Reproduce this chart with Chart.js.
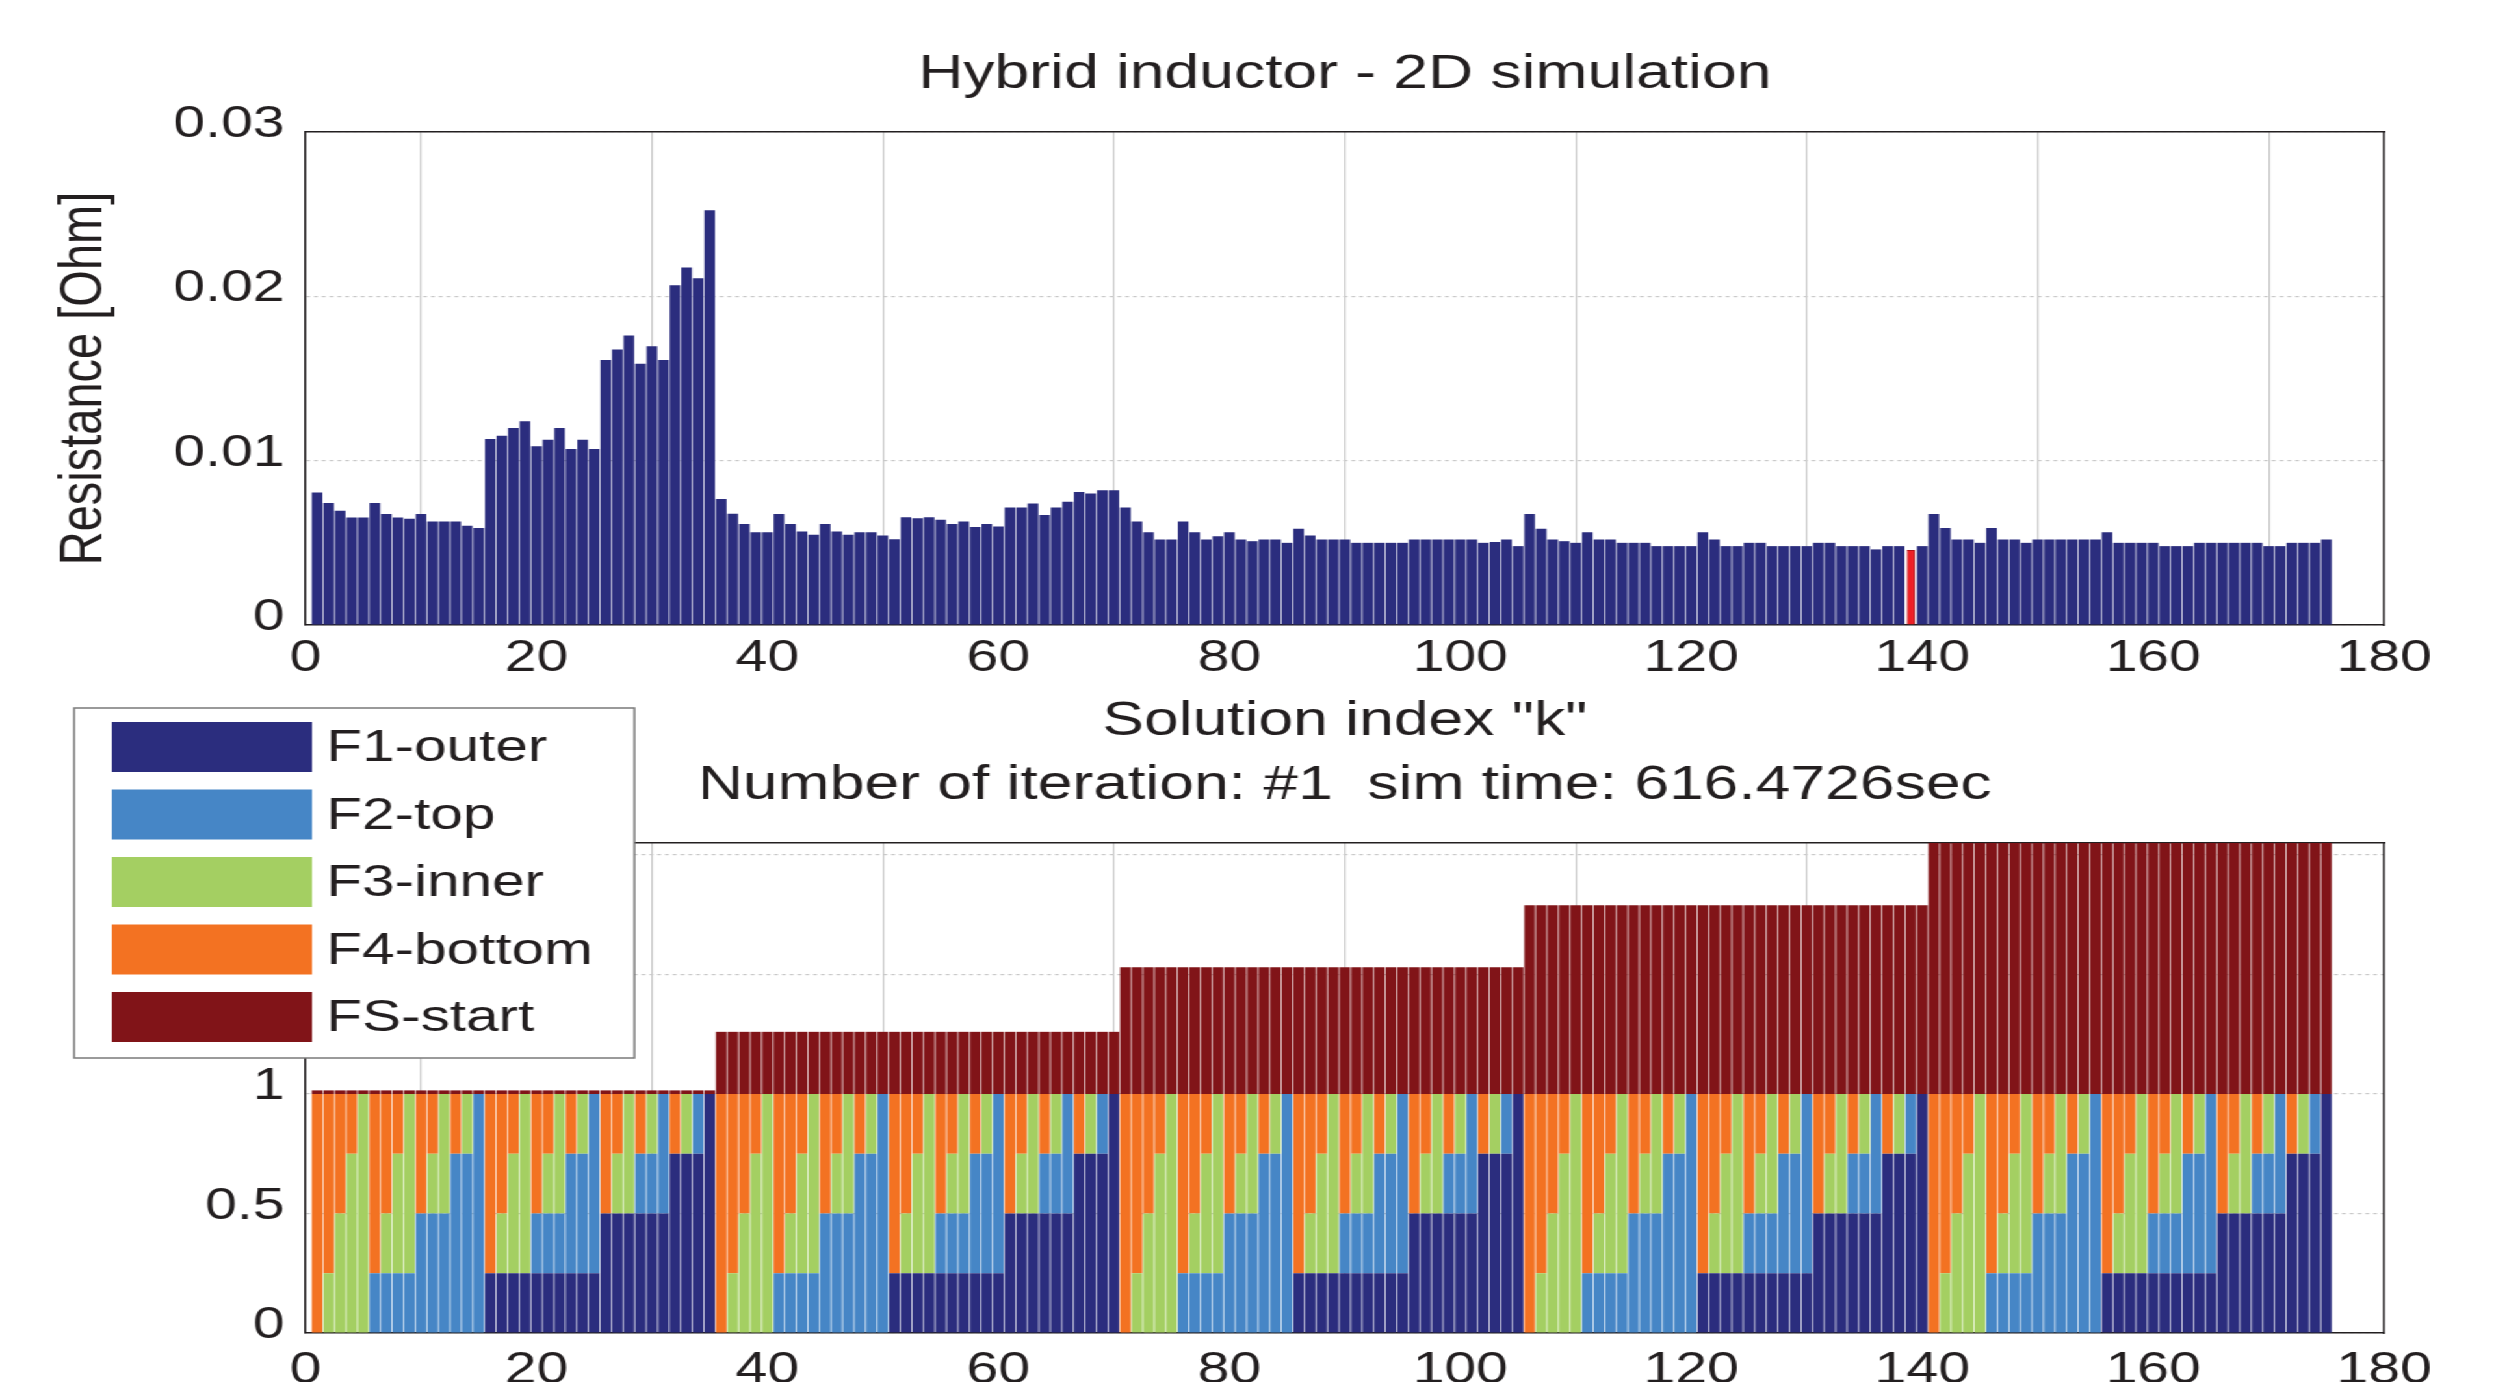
<!DOCTYPE html>
<html>
<head>
<meta charset="utf-8">
<script src="https://cdn.jsdelivr.net/npm/chart.js@4.4.1/dist/chart.umd.min.js"></script>
<style>
  html, body { margin: 0; padding: 0; background: #fff; width: 2504px; height: 1382px; overflow: hidden; }
  /* la figura original está estirada en horizontal, la reproducimos con scaleX */
  #wrap { position: absolute; left: 0; top: 0; width: 1926px; height: 1420px; transform: scaleX(1.3); transform-origin: 0 0; }
  #topChart { position: absolute; left: 0; top: 0; }
  #bottomChart { position: absolute; left: 0; top: 690px; }
</style>
</head>
<body>
<div id="wrap">
  <canvas id="topChart" width="1926" height="760"></canvas>
  <canvas id="bottomChart" width="1926" height="720"></canvas>
</div>
<script>
// Índice de solución k = 1..175
const solutionK = Array.from({ length: 175 }, (_, i) => i + 1);

// Resistencia [Ohm] por solución (k = 139 va aparte, en rojo)
const resistance = [
  0.00807, 0.00742, 0.00695, 0.00654, 0.00654, 0.00742, 0.00675, 0.00654, 0.00646, 0.00675,
  0.0063, 0.0063, 0.0063, 0.00604, 0.0059, 0.01132, 0.01152, 0.01199, 0.0124, 0.01087,
  0.01128, 0.01199, 0.01071, 0.01128, 0.01071, 0.01612, 0.01677, 0.01762, 0.0159, 0.01697,
  0.01612, 0.02067, 0.02175, 0.0211, 0.02524, 0.00766, 0.00677, 0.00614, 0.00565, 0.00565,
  0.00675, 0.00614, 0.00569, 0.00549, 0.00614, 0.00569, 0.00549, 0.00565, 0.00565, 0.00545,
  0.00522, 0.00656, 0.0065, 0.00656, 0.0064, 0.00614, 0.0063, 0.00596, 0.00614, 0.006,
  0.00715, 0.00715, 0.0074, 0.0067, 0.00715, 0.0075, 0.0081, 0.008, 0.0082, 0.0082,
  0.00715, 0.0063, 0.00565, 0.0052, 0.0052, 0.0063, 0.00565, 0.0052, 0.0054, 0.00565,
  0.0052, 0.0051, 0.0052, 0.0052, 0.005, 0.00585, 0.00545, 0.0052, 0.0052, 0.0052,
  0.005, 0.005, 0.005, 0.005, 0.005, 0.0052, 0.0052, 0.0052, 0.0052, 0.0052,
  0.0052, 0.005, 0.00505, 0.0052, 0.0048, 0.00675, 0.00585, 0.0052, 0.0051, 0.005,
  0.00565, 0.0052, 0.0052, 0.005, 0.005, 0.005, 0.0048, 0.0048, 0.0048, 0.0048,
  0.00565, 0.0052, 0.0048, 0.0048, 0.005, 0.005, 0.0048, 0.0048, 0.0048, 0.0048,
  0.005, 0.005, 0.0048, 0.0048, 0.0048, 0.0046, 0.0048, 0.0048, null, 0.0048,
  0.00675, 0.0059, 0.0052, 0.0052, 0.005, 0.0059, 0.0052, 0.0052, 0.005, 0.0052,
  0.0052, 0.0052, 0.0052, 0.0052, 0.0052, 0.00565, 0.005, 0.005, 0.005, 0.005,
  0.0048, 0.0048, 0.0048, 0.005, 0.005, 0.005, 0.005, 0.005, 0.005, 0.0048,
  0.0048, 0.005, 0.005, 0.005, 0.0052
];
const selectedK = 139;
const selectedResistance = 0.00457;

// Fracción de cada cara por solución (bloques de 35, uno por cada FS-start)
const f1Outer = [
  0,0,0,0,0,0,0,0,0,0,0,0,0,0,0,0.25,0.25,0.25,0.25,0.25,0.25,0.25,0.25,0.25,0.25,0.5,0.5,0.5,0.5,0.5,0.5,0.75,0.75,0.75,1,
  0,0,0,0,0,0,0,0,0,0,0,0,0,0,0,0.25,0.25,0.25,0.25,0.25,0.25,0.25,0.25,0.25,0.25,0.5,0.5,0.5,0.5,0.5,0.5,0.75,0.75,0.75,1,
  0,0,0,0,0,0,0,0,0,0,0,0,0,0,0,0.25,0.25,0.25,0.25,0.25,0.25,0.25,0.25,0.25,0.25,0.5,0.5,0.5,0.5,0.5,0.5,0.75,0.75,0.75,1,
  0,0,0,0,0,0,0,0,0,0,0,0,0,0,0,0.25,0.25,0.25,0.25,0.25,0.25,0.25,0.25,0.25,0.25,0.5,0.5,0.5,0.5,0.5,0.5,0.75,0.75,0.75,1,
  0,0,0,0,0,0,0,0,0,0,0,0,0,0,0,0.25,0.25,0.25,0.25,0.25,0.25,0.25,0.25,0.25,0.25,0.5,0.5,0.5,0.5,0.5,0.5,0.75,0.75,0.75,1
];
const f2Top = [
  0,0,0,0,0,0.25,0.25,0.25,0.25,0.5,0.5,0.5,0.75,0.75,1,0,0,0,0,0.25,0.25,0.25,0.5,0.5,0.75,0,0,0,0.25,0.25,0.5,0,0,0.25,0,
  0,0,0,0,0,0.25,0.25,0.25,0.25,0.5,0.5,0.5,0.75,0.75,1,0,0,0,0,0.25,0.25,0.25,0.5,0.5,0.75,0,0,0,0.25,0.25,0.5,0,0,0.25,0,
  0,0,0,0,0,0.25,0.25,0.25,0.25,0.5,0.5,0.5,0.75,0.75,1,0,0,0,0,0.25,0.25,0.25,0.5,0.5,0.75,0,0,0,0.25,0.25,0.5,0,0,0.25,0,
  0,0,0,0,0,0.25,0.25,0.25,0.25,0.5,0.5,0.5,0.75,0.75,1,0,0,0,0,0.25,0.25,0.25,0.5,0.5,0.75,0,0,0,0.25,0.25,0.5,0,0,0.25,0,
  0,0,0,0,0,0.25,0.25,0.25,0.25,0.5,0.5,0.5,0.75,0.75,1,0,0,0,0,0.25,0.25,0.25,0.5,0.5,0.75,0,0,0,0.25,0.25,0.5,0,0,0.25,0
];
const f3Inner = [
  0,0.25,0.5,0.75,1,0,0.25,0.5,0.75,0,0.25,0.5,0,0.25,0,0,0.25,0.5,0.75,0,0.25,0.5,0,0.25,0,0,0.25,0.5,0,0.25,0,0,0.25,0,0,
  0,0.25,0.5,0.75,1,0,0.25,0.5,0.75,0,0.25,0.5,0,0.25,0,0,0.25,0.5,0.75,0,0.25,0.5,0,0.25,0,0,0.25,0.5,0,0.25,0,0,0.25,0,0,
  0,0.25,0.5,0.75,1,0,0.25,0.5,0.75,0,0.25,0.5,0,0.25,0,0,0.25,0.5,0.75,0,0.25,0.5,0,0.25,0,0,0.25,0.5,0,0.25,0,0,0.25,0,0,
  0,0.25,0.5,0.75,1,0,0.25,0.5,0.75,0,0.25,0.5,0,0.25,0,0,0.25,0.5,0.75,0,0.25,0.5,0,0.25,0,0,0.25,0.5,0,0.25,0,0,0.25,0,0,
  0,0.25,0.5,0.75,1,0,0.25,0.5,0.75,0,0.25,0.5,0,0.25,0,0,0.25,0.5,0.75,0,0.25,0.5,0,0.25,0,0,0.25,0.5,0,0.25,0,0,0.25,0,0
];
const f4Bottom = [
  1,0.75,0.5,0.25,0,0.75,0.5,0.25,0,0.5,0.25,0,0.25,0,0,0.75,0.5,0.25,0,0.5,0.25,0,0.25,0,0,0.5,0.25,0,0.25,0,0,0.25,0,0,0,
  1,0.75,0.5,0.25,0,0.75,0.5,0.25,0,0.5,0.25,0,0.25,0,0,0.75,0.5,0.25,0,0.5,0.25,0,0.25,0,0,0.5,0.25,0,0.25,0,0,0.25,0,0,0,
  1,0.75,0.5,0.25,0,0.75,0.5,0.25,0,0.5,0.25,0,0.25,0,0,0.75,0.5,0.25,0,0.5,0.25,0,0.25,0,0,0.5,0.25,0,0.25,0,0,0.25,0,0,0,
  1,0.75,0.5,0.25,0,0.75,0.5,0.25,0,0.5,0.25,0,0.25,0,0,0.75,0.5,0.25,0,0.5,0.25,0,0.25,0,0,0.5,0.25,0,0.25,0,0,0.25,0,0,0,
  1,0.75,0.5,0.25,0,0.75,0.5,0.25,0,0.5,0.25,0,0.25,0,0,0.75,0.5,0.25,0,0.5,0.25,0,0.25,0,0,0.5,0.25,0,0.25,0,0,0.25,0,0,0
];
const fsStart = [
  0.015,0.015,0.015,0.015,0.015,0.015,0.015,0.015,0.015,0.015,0.015,0.015,0.015,0.015,0.015,0.015,0.015,0.015,0.015,0.015,0.015,0.015,0.015,0.015,0.015,0.015,0.015,0.015,0.015,0.015,0.015,0.015,0.015,0.015,0.015,
  0.26,0.26,0.26,0.26,0.26,0.26,0.26,0.26,0.26,0.26,0.26,0.26,0.26,0.26,0.26,0.26,0.26,0.26,0.26,0.26,0.26,0.26,0.26,0.26,0.26,0.26,0.26,0.26,0.26,0.26,0.26,0.26,0.26,0.26,0.26,
  0.53,0.53,0.53,0.53,0.53,0.53,0.53,0.53,0.53,0.53,0.53,0.53,0.53,0.53,0.53,0.53,0.53,0.53,0.53,0.53,0.53,0.53,0.53,0.53,0.53,0.53,0.53,0.53,0.53,0.53,0.53,0.53,0.53,0.53,0.53,
  0.79,0.79,0.79,0.79,0.79,0.79,0.79,0.79,0.79,0.79,0.79,0.79,0.79,0.79,0.79,0.79,0.79,0.79,0.79,0.79,0.79,0.79,0.79,0.79,0.79,0.79,0.79,0.79,0.79,0.79,0.79,0.79,0.79,0.79,0.79,
  1.05,1.05,1.05,1.05,1.05,1.05,1.05,1.05,1.05,1.05,1.05,1.05,1.05,1.05,1.05,1.05,1.05,1.05,1.05,1.05,1.05,1.05,1.05,1.05,1.05,1.05,1.05,1.05,1.05,1.05,1.05,1.05,1.05,1.05,1.05
];

const faceLabels = ['F1-outer', 'F2-top', 'F3-inner', 'F4-bottom', 'FS-start'];
const faceColors = ['#2b2d7e', '#4686c6', '#a4cf62', '#f37222', '#811418'];

// Marcas de los ejes
const xTicks = [0, 20, 40, 60, 80, 100, 120, 140, 160, 180];
const yTicksTop = [0, 0.01, 0.02, 0.03];
const yLabelsTop = ['0', '0.01', '0.02', '0.03'];
const yTicksBottom = [0, 0.5, 1, 1.5, 2];
const yLabelsBottom = ['0', '0.5', '1', '1.5', '2'];

const FONT = '"Liberation Sans", Arial, Helvetica, sans-serif';
const TEXT = '#231f20';
const GRID = '#c9c9c9';

Chart.defaults.font.family = FONT;
Chart.defaults.color = TEXT;

const toPoints = (vals) => solutionK.map((k, i) => ({ x: k, y: vals[i] }));

// Ejes secundarios solo para cerrar la caja (arriba y derecha)
function boxAxis(position, min, max) {
  return {
    type: 'linear', position, min, max,
    ticks: { display: false },
    grid: { drawOnChartArea: false, drawTicks: false },
    border: { display: true, color: TEXT, width: 1.5 },
    afterFit: (s) => { if (position === 'top') s.height = 0; else s.width = 0; }
  };
}

function xAxis(padding) {
  return {
    type: 'linear', min: 0, max: 180, offset: false, stacked: true,
    afterBuildTicks: (s) => { s.ticks = xTicks.map(v => ({ value: v })); },
    ticks: { padding, maxRotation: 0, font: { size: 44, lineHeight: 1 }, color: TEXT, callback: (v) => String(v) },
    grid: { color: GRID, lineWidth: 1.2, drawTicks: false },
    border: { color: TEXT, width: 1.5 }
  };
}

// Leyenda dibujada sobre el área de la gráfica inferior, como en la figura
const legendBox = {
  id: 'legendBox',
  afterDraw(chart, args, o) {
    const ctx = chart.ctx;
    ctx.save();
    ctx.fillStyle = '#ffffff';
    ctx.fillRect(o.x, o.y, o.w, o.h);
    ctx.strokeStyle = '#7a7a7a';
    ctx.lineWidth = 1.5;
    ctx.strokeRect(o.x, o.y, o.w, o.h);
    ctx.font = '45px ' + FONT;
    ctx.textBaseline = 'middle';
    chart.data.datasets.forEach((ds, i) => {
      const y = o.y + o.first + i * o.step;
      ctx.fillStyle = ds.backgroundColor;
      ctx.fillRect(o.swatchX, y, o.swatchW, o.swatchH);
      ctx.fillStyle = TEXT;
      ctx.fillText(ds.label, o.textX, y + o.swatchH / 2 + 2);
    });
    ctx.restore();
  }
};

const topData = toPoints(resistance);

new Chart(document.getElementById('topChart'), {
  type: 'bar',
  data: {
    datasets: [
      { label: 'Resistance', data: topData, backgroundColor: '#2b2d7e', borderWidth: 0,
        barPercentage: 0.92, categoryPercentage: 1, grouped: false },
      { label: 'Selected', data: [{ x: selectedK, y: selectedResistance }], backgroundColor: '#ee1f25',
        borderColor: '#b01015', borderWidth: 1, barPercentage: 0.72, categoryPercentage: 1, grouped: false }
    ]
  },
  options: {
    responsive: false, animation: false, devicePixelRatio: 1,
    layout: { padding: { left: 0, right: 92, top: 0, bottom: 14 } },
    plugins: {
      legend: { display: false }, tooltip: { enabled: false },
      title: { display: true, fullSize: false, text: 'Hybrid inductor - 2D simulation', color: TEXT,
        font: { size: 48, weight: 'normal', lineHeight: 1 }, padding: { top: 51, bottom: 33 } }
    },
    scales: {
      x: Object.assign(xAxis(12), {
        title: { display: true, text: 'Solution index "k"', color: TEXT,
          font: { size: 48, lineHeight: 1 }, padding: { top: 0, bottom: 0 } },
        afterFit: (s) => { s.height = 121; }
      }),
      y: {
        type: 'linear', min: 0, max: 0.03,
        afterBuildTicks: (s) => { s.ticks = yTicksTop.map(v => ({ value: v })); },
        ticks: { padding: 16, labelOffset: -7, font: { size: 44, lineHeight: 1 }, color: TEXT,
          callback: (v, i) => yLabelsTop[i] },
        grid: { color: GRID, lineWidth: 1.2, drawTicks: false },
        border: { color: TEXT, width: 1.5, dash: [3, 3] },
        title: { display: true, text: 'Resistance [Ohm]', color: TEXT,
          font: { size: 47, lineHeight: 1 }, padding: { top: 42, bottom: 0 } },
        afterFit: (s) => { s.width = 235; }
      },
      x2: boxAxis('top', 0, 180),
      y2: boxAxis('right', 0, 0.03)
    }
  }
});

const faceSeries = [f1Outer, f2Top, f3Inner, f4Bottom, fsStart];

new Chart(document.getElementById('bottomChart'), {
  type: 'bar',
  data: {
    datasets: faceSeries.map((vals, i) => ({
      label: faceLabels[i], data: toPoints(vals), backgroundColor: faceColors[i], borderWidth: 0,
      barPercentage: 0.92, categoryPercentage: 1
    }))
  },
  options: {
    responsive: false, animation: false, devicePixelRatio: 1,
    layout: { padding: { left: 0, right: 92, top: 0, bottom: 17 } },
    plugins: {
      legend: { display: false }, tooltip: { enabled: false },
      title: { display: true, fullSize: false, text: 'Number of iteration: #1  sim time: 616.4726sec', color: TEXT,
        font: { size: 48, weight: 'normal', lineHeight: 1 }, padding: { top: 72, bottom: 33 } },
      legendBox: { x: 57, y: 18, w: 431, h: 350, first: 14, step: 67.5, swatchX: 86, swatchW: 154, swatchH: 50, textX: 251 }
    },
    scales: {
      x: Object.assign(xAxis(16), { afterFit: (s) => { s.height = 60; } }),
      y: {
        type: 'linear', min: 0, max: 2.05, stacked: true,
        afterBuildTicks: (s) => { s.ticks = yTicksBottom.map(v => ({ value: v })); },
        ticks: { padding: 16, labelOffset: -7, font: { size: 44, lineHeight: 1 }, color: TEXT,
          callback: (v, i) => yLabelsBottom[i] },
        grid: { color: GRID, lineWidth: 1.2, drawTicks: false },
        border: { color: TEXT, width: 1.5, dash: [3, 3] },
        afterFit: (s) => { s.width = 235; }
      },
      x2: boxAxis('top', 0, 180),
      y2: boxAxis('right', 0, 2.05)
    }
  },
  plugins: [legendBox]
});
</script>
</body>
</html>
